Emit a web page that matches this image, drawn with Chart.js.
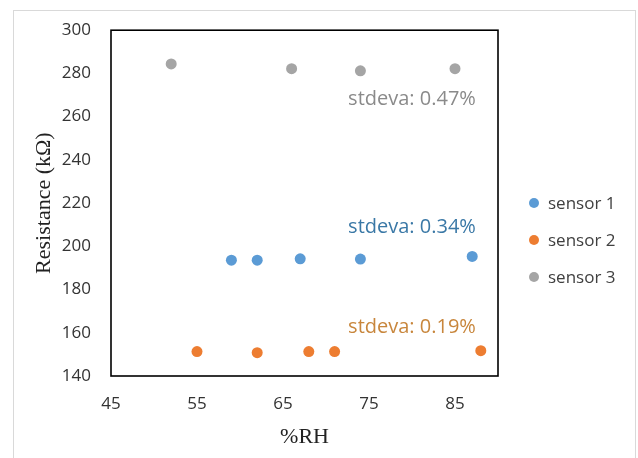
<!DOCTYPE html>
<html>
<head>
<meta charset="utf-8">
<script src="https://cdn.jsdelivr.net/npm/chart.js@4"></script>
<style>
  html, body { margin: 0; padding: 0; background: #fff; }
  #wrap { width: 638px; height: 458px; }
</style>
</head>
<body>
<div id="wrap"><canvas id="chart" width="638" height="458"></canvas></div>
<script>
// values
const sensorNames = ['sensor 1', 'sensor 2', 'sensor 3'];
const sensor1RH = [59, 62, 67, 74, 87];
const sensor1R  = [193.6, 193.6, 194.2, 194.1, 195.3];
const sensor2RH = [55, 62, 68, 71, 88];
const sensor2R  = [151.3, 150.8, 151.3, 151.3, 151.7];
const sensor3RH = [52, 66, 74, 85];
const sensor3R  = [284.4, 282.2, 281.2, 282.2];
const stdevLabels = ['stdeva: 0.34%', 'stdeva: 0.19%', 'stdeva: 0.47%'];
const xTickValues = [45, 55, 65, 75, 85];

const colors = ['#5b9bd5', '#ed7d31', '#a5a5a5'];
const labelColors = ['#3a78a6', '#c8863c', '#8a8a8a'];
const labelY = [208.7, 162.6, 268.2]; // where the stdev notes sit (data units)

function toPoints(xs, ys) {
    return xs.map((x, i) => ({ x: x, y: ys[i] }));
}

const seriesData = [
    toPoints(sensor1RH, sensor1R),
    toPoints(sensor2RH, sensor2R),
    toPoints(sensor3RH, sensor3R),
];

const tickFont = { family: 'Open Sans', size: 17 };

// frame, stdev notes and legend
const extras = {
    id: 'extras',
    beforeDraw(chart) {
        const c = chart.ctx;
        c.save();
        c.strokeStyle = '#d9d9d9';
        c.lineWidth = 1;
        c.strokeRect(13.5, 10.5, 622, 460);
        c.restore();
    },
    afterDraw(chart) {
        const c = chart.ctx;
        const a = chart.chartArea;
        const xs = chart.scales.x, ys = chart.scales.y;
        c.save();
        c.strokeStyle = '#000';
        c.lineWidth = 1.6;
        c.strokeRect(a.left, a.top, a.right - a.left, a.bottom - a.top);

        c.font = '20px "Open Sans"';
        c.textAlign = 'center';
        c.textBaseline = 'middle';
        stdevLabels.forEach((t, i) => {
            c.fillStyle = labelColors[i];
            c.fillText(t, xs.getPixelForValue(80), ys.getPixelForValue(labelY[i]));
        });

        c.font = '17px "Open Sans"';
        c.textAlign = 'left';
        sensorNames.forEach((n, i) => {
            const y = 203 + i * 37;
            c.fillStyle = colors[i];
            c.beginPath();
            c.arc(534, y, 5, 0, Math.PI * 2);
            c.fill();
            c.fillStyle = '#404040';
            c.fillText(n, 548, y + 1);
        });
        c.restore();
    }
};

new Chart(document.getElementById('chart'), {
    type: 'scatter',
    data: {
        datasets: sensorNames.map((n, i) => ({
            label: n,
            data: seriesData[i],
            backgroundColor: colors[i],
            borderWidth: 0,
            pointRadius: 5.5,
            pointHoverRadius: 5.5,
        }))
    },
    options: {
        responsive: false,
        animation: false,
        layout: { padding: { top: 29, right: 140, left: 0, bottom: 0 } },
        plugins: { legend: { display: false }, tooltip: { enabled: false } },
        scales: {
            x: {
                type: 'linear',
                min: 45,
                max: 90,
                afterBuildTicks: (s) => { s.ticks = xTickValues.map(v => ({ value: v })); },
                afterFit: (s) => { s.height = 82; },
                grid: { display: false, drawTicks: false },
                border: { display: false },
                ticks: { font: tickFont, color: '#333', padding: 18, maxRotation: 0 },
                title: {
                    display: true,
                    text: '%RH',
                    font: { family: 'Liberation Serif', size: 22 },
                    color: '#222',
                    padding: { top: 0, bottom: 8 }
                }
            },
            y: {
                min: 140,
                max: 300,
                ticks: { stepSize: 20, font: tickFont, color: '#333', padding: 20 },
                afterFit: (s) => { s.width = 111; },
                grid: { display: false, drawTicks: false },
                border: { display: false },
                title: {
                    display: true,
                    text: 'Resistance (kΩ)',
                    font: { family: 'Liberation Serif', size: 22 },
                    color: '#222',
                    padding: { top: 31, bottom: 0 }
                }
            }
        }
    },
    plugins: [extras]
});
</script>
</body>
</html>
